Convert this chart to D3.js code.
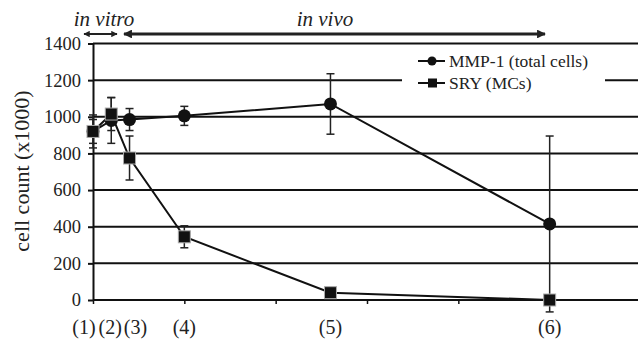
<!DOCTYPE html>
<html><head><meta charset="utf-8">
<script src="https://cdn.jsdelivr.net/npm/d3@7"></script>
<style>html,body{margin:0;padding:0;background:#fff;}svg{display:block;}
svg text{font-family:"Liberation Serif","DejaVu Serif",serif;}</style>
</head><body>
<svg id="c" width="638" height="341"></svg>
<script>
// ---- data ----
const categories = ["(1)", "(2)", "(3)", "(4)", "(5)", "(6)"];
const timePoints = [0, 0.2, 0.4, 1, 2.6, 5];
const mmpValues = [920, 980, 985, 1005, 1070, 415];
const mmpErrors = [65, 125, 60, 52, 165, 480];
const sryValues = [920, 1015, 775, 345, 40, 0];
const sryErrors = [90, 90, 120, 60, 0, 0];
const yTicks = [0, 200, 400, 600, 800, 1000, 1200, 1400];
const xTicks = [0, 1, 2, 3, 4, 5];
const seriesNames = ["MMP-1 (total cells)", "SRY (MCs)"];
const yTitle = "cell count (x1000)";

// ---- layout ----
const svg = d3.select("#c");
const FONT = "Liberation Serif, DejaVu Serif, serif";
const x = d3.scaleLinear().domain([0, 6]).range([93, 641]);
const y = d3.scaleLinear().domain([0, 1400]).range([300, 43.5]);

// gridlines
svg.append("g").selectAll("line").data(yTicks.filter(d => d > 0)).join("line")
  .attr("x1", 93).attr("x2", 638).attr("y1", d => y(d)).attr("y2", d => y(d))
  .attr("stroke", "#111").attr("stroke-width", 2);

// y axis
const yAxis = svg.append("g").attr("transform", "translate(93,0)")
  .call(d3.axisLeft(y).tickValues(yTicks).tickFormat(d3.format("d")).tickSize(5).tickSizeOuter(0).tickPadding(7));
yAxis.attr("font-family", null);
yAxis.select(".domain").attr("stroke", "#111").attr("stroke-width", 2);
yAxis.selectAll(".tick line").attr("stroke", "#111").attr("stroke-width", 2);
yAxis.selectAll("text").style("font-family", FONT).attr("font-size", 18.5).attr("fill", "#222");

// x axis
const xAxis = svg.append("g").attr("transform", "translate(0,300)")
  .call(d3.axisBottom(x).tickValues(xTicks).tickSize(4).tickSizeOuter(0).tickFormat(""));
xAxis.select(".domain").attr("stroke", "#111").attr("stroke-width", 2).attr("d", "M93,0H638");
xAxis.selectAll(".tick line").attr("stroke", "#111").attr("stroke-width", 1.5);

// category labels
const labelNudge = [-9, -1, 6, 0, 0, 0];
svg.append("g").selectAll("text").data(categories).join("text")
  .attr("x", (d, i) => x(timePoints[i]) + labelNudge[i]).attr("y", 334)
  .attr("text-anchor", "middle").style("font-family", FONT).attr("font-size", 20).attr("fill", "#222")
  .text(d => d);

// y title
svg.append("text").attr("transform", "translate(29,171) rotate(-90)")
  .attr("text-anchor", "middle").style("font-family", FONT).attr("font-size", 22).attr("fill", "#222")
  .text(yTitle);

// in vitro / in vivo
svg.append("text").attr("x", 104).attr("y", 26).attr("text-anchor", "middle")
  .style("font-family", FONT).attr("font-style", "italic").attr("font-size", 21).attr("fill", "#222").text("in vitro");
svg.append("text").attr("x", 325).attr("y", 26).attr("text-anchor", "middle")
  .style("font-family", FONT).attr("font-style", "italic").attr("font-size", 21).attr("fill", "#222").text("in vivo");

const defs = svg.append("defs");
function marker(id, size) {
  defs.append("marker").attr("id", id).attr("viewBox", "0 0 10 10").attr("refX", 9).attr("refY", 5)
    .attr("markerUnits", "userSpaceOnUse").attr("markerWidth", size).attr("markerHeight", size * 0.8)
    .attr("orient", "auto-start-reverse")
    .append("path").attr("d", "M0,0L10,5L0,10Z").attr("fill", "#222");
}
marker("ah1", 8); marker("ah2", 11);
svg.append("line").attr("x1", 84).attr("x2", 117).attr("y1", 34).attr("y2", 34)
  .attr("stroke", "#222").attr("stroke-width", 1.8)
  .attr("marker-start", "url(#ah1)").attr("marker-end", "url(#ah1)");
svg.append("line").attr("x1", 124).attr("x2", 545).attr("y1", 34).attr("y2", 34)
  .attr("stroke", "#222").attr("stroke-width", 3.2)
  .attr("marker-start", "url(#ah2)").attr("marker-end", "url(#ah2)");

// legend box
svg.append("rect").attr("x", 402).attr("y", 47).attr("width", 203).attr("height", 64).attr("fill", "#fff");

// series
const series = [
  {vals: mmpValues, errs: mmpErrors, shape: "circle"},
  {vals: sryValues, errs: sryErrors, shape: "square"}
];
const line = d3.line().x((d, i) => x(timePoints[i])).y(d => y(d));

series.forEach(s => {
  const g = svg.append("g");
  g.selectAll("line.err").data(s.vals).join("line").attr("class", "err")
    .attr("x1", (d, i) => x(timePoints[i])).attr("x2", (d, i) => x(timePoints[i]))
    .attr("y1", (d, i) => y(d + s.errs[i])).attr("y2", (d, i) => y(d - s.errs[i]))
    .attr("stroke", "#222").attr("stroke-width", 1.5);
  ["hi", "lo"].forEach(k => {
    g.selectAll("line.cap" + k).data(s.vals).join("line").attr("class", "cap" + k)
      .filter((d, i) => s.errs[i] > 0)
      .attr("x1", (d, i) => x(timePoints[i]) - 4).attr("x2", (d, i) => x(timePoints[i]) + 4)
      .attr("y1", (d, i) => y(k === "hi" ? d + s.errs[i] : d - s.errs[i]))
      .attr("y2", (d, i) => y(k === "hi" ? d + s.errs[i] : d - s.errs[i]))
      .attr("stroke", "#222").attr("stroke-width", 1.5);
  });
});
series.forEach(s => {
  svg.append("path").datum(s.vals).attr("d", line).attr("fill", "none")
    .attr("stroke", "#111").attr("stroke-width", 2);
});
series.forEach(s => {
  const g = svg.append("g");
  if (s.shape === "circle") {
    g.selectAll("circle").data(s.vals).join("circle")
      .attr("cx", (d, i) => x(timePoints[i])).attr("cy", d => y(d)).attr("r", 6.5).attr("fill", "#111");
  } else {
    g.selectAll("rect").data(s.vals).join("rect")
      .attr("x", (d, i) => x(timePoints[i]) - 6).attr("y", d => y(d) - 6)
      .attr("width", 12).attr("height", 12).attr("fill", "#111").attr("stroke", "#aaa").attr("stroke-width", 1);
  }
});

// legend
const lg = svg.append("g");
seriesNames.forEach((name, i) => {
  const yy = 61 + i * 22;
  lg.append("line").attr("x1", 418).attr("x2", 445).attr("y1", yy).attr("y2", yy)
    .attr("stroke", "#111").attr("stroke-width", 2);
  if (i === 0) lg.append("circle").attr("cx", 432).attr("cy", yy).attr("r", 4.5).attr("fill", "#111");
  else lg.append("rect").attr("x", 428).attr("y", yy - 4.5).attr("width", 9).attr("height", 9).attr("fill", "#111");
  lg.append("text").attr("x", 449).attr("y", yy + 6).style("font-family", FONT).attr("font-size", 17.5)
    .attr("fill", "#222").text(name);
});
</script>
</body></html>
